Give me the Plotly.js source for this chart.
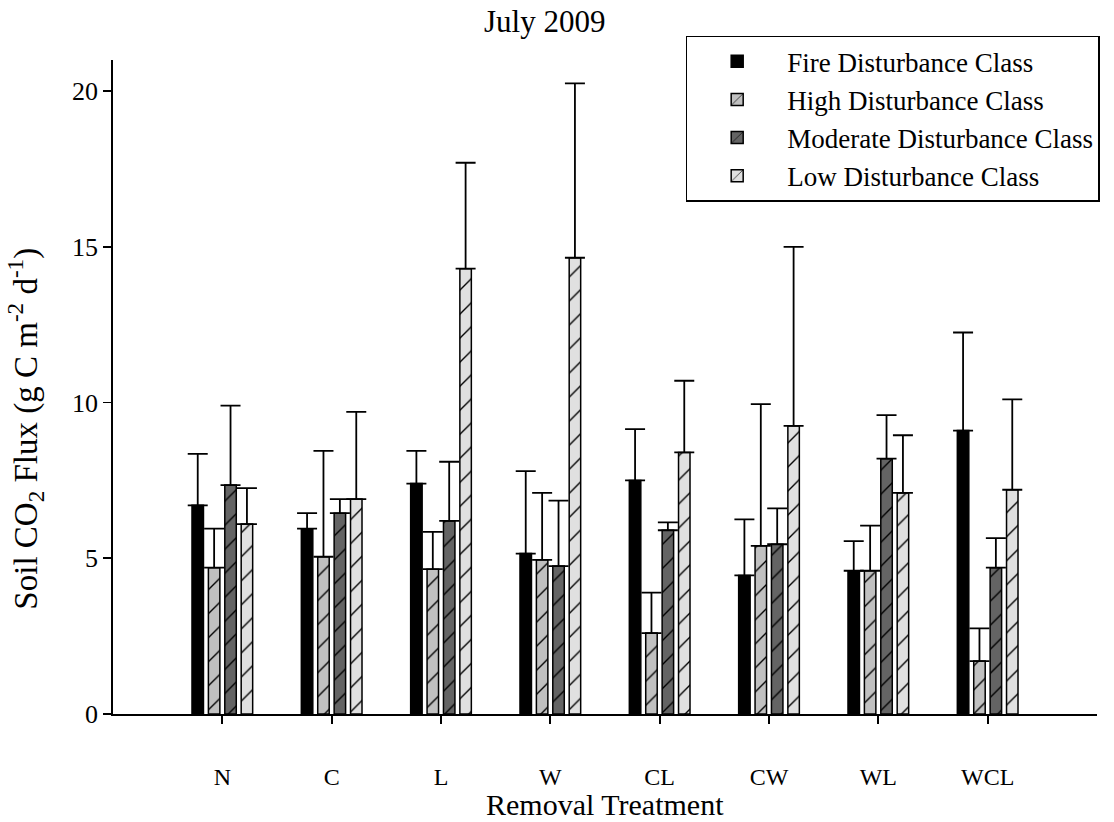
<!DOCTYPE html>
<html>
<head>
<meta charset="utf-8">
<script src="https://cdn.plot.ly/plotly-3.0.1.min.js"></script>
<style>html,body{margin:0;padding:0;background:#fff;}#chart{width:1114px;height:822px;}</style>
</head>
<body>
<div id="chart"></div>
<script>
const categories = ["N", "C", "L", "W", "CL", "CW", "WL", "WCL"];
const seriesNames = ["Fire Disturbance Class", "High Disturbance Class", "Moderate Disturbance Class", "Low Disturbance Class"];
const fireValues = [6.7, 5.95, 7.4, 5.15, 7.5, 4.45, 4.6, 9.1];
const fireErrTop = [8.35, 6.45, 8.45, 7.8, 9.15, 6.25, 5.55, 12.25];
const highValues = [4.7, 5.05, 4.65, 4.95, 2.6, 5.4, 4.6, 1.7];
const highErrTop = [5.95, 8.45, 5.85, 7.1, 3.9, 9.95, 6.05, 2.75];
const moderateValues = [7.35, 6.45, 6.2, 4.75, 5.9, 5.45, 8.2, 4.7];
const moderateErrTop = [9.9, 6.9, 8.1, 6.85, 6.15, 6.6, 9.6, 5.65];
const lowValues = [6.1, 6.9, 14.3, 14.65, 8.4, 9.25, 7.1, 7.2];
const lowErrTop = [7.25, 9.7, 17.7, 20.25, 10.7, 15.0, 8.95, 10.1];

const fills = ["#000000", "#c0c0c0", "#646464", "#e0e0e0"];
const hatched = [false, true, true, true];
const vals = [fireValues, highValues, moderateValues, lowValues];
const tops = [fireErrTop, highErrTop, moderateErrTop, lowErrTop];

const FONT = "Liberation Serif, Times New Roman, serif";

const traces = vals.map((v, i) => {
  const marker = {color: fills[i], line: {color: "#000", width: 1.5}};
  if (hatched[i]) {
    marker.pattern = {shape: "/", bgcolor: fills[i], fgcolor: "#000", size: 17, solidity: 0.08, fillmode: "replace"};
  }
  return {
    type: "bar",
    name: seriesNames[i],
    x: categories,
    y: v,
    marker: marker,
    error_y: {
      type: "data", symmetric: false,
      array: tops[i].map((t, k) => t - v[k]),
      arrayminus: v.map(() => 0),
      color: "#000", thickness: 1.8, width: 10
    }
  };
});

const layout = {
  width: 1114, height: 822,
  paper_bgcolor: "#fff", plot_bgcolor: "#fff",
  margin: {l: 113, r: 17, t: 60, b: 108},
  barmode: "group", bargap: 0.4, bargroupgap: 0.3,
  font: {family: FONT, color: "#000", size: 24},
  title: {text: "July 2009", font: {family: FONT, size: 31, color: "#000"}, x: 0.489, xanchor: "center", xref: "container", y: 0.974, yanchor: "middle"},
  xaxis: {
    type: "category", categoryorder: "array", categoryarray: categories,
    range: [-1, 8],
    showline: true, linecolor: "#000", linewidth: 1.8,
    ticks: "outside", ticklen: 8, tickwidth: 1.8, tickcolor: "#000",
    ticklabelstandoff: 32,
    tickfont: {family: FONT, size: 24, color: "#000"},
    showgrid: false, zeroline: false
  },
  yaxis: {
    range: [0, 21], tickvals: [0, 5, 10, 15, 20],
    showline: true, linecolor: "#000", linewidth: 1.8,
    ticks: "outside", ticklen: 8, tickwidth: 1.8, tickcolor: "#000",
    tickfont: {family: FONT, size: 26, color: "#000"},
    showgrid: false, zeroline: false
  },
  annotations: [{
    text: "Soil CO<sub>2</sub> Flux (g C m<sup>-2</sup> d<sup>-1</sup>)",
    xref: "paper", yref: "paper", x: -0.089, y: 0.437,
    xanchor: "center", yanchor: "middle", textangle: -90, showarrow: false,
    font: {family: FONT, size: 33, color: "#000"}
  }, {
    text: "Removal Treatment",
    xref: "paper", yref: "paper", x: 0.5, y: -0.138,
    xanchor: "center", yanchor: "middle", showarrow: false,
    font: {family: FONT, size: 30, color: "#000"}
  }],
  showlegend: true,
  legend: {
    x: 0.582, y: 1.037, xanchor: "left", yanchor: "top",
    bgcolor: "#fff", bordercolor: "#000", borderwidth: 1.5,
    font: {family: FONT, size: 27, color: "#000"},
    itemwidth: 90, tracegroupgap: 0,
    traceorder: "normal"
  }
};

Plotly.newPlot("chart", traces, layout, {staticPlot: true, displayModeBar: false});
</script>
</body>
</html>
